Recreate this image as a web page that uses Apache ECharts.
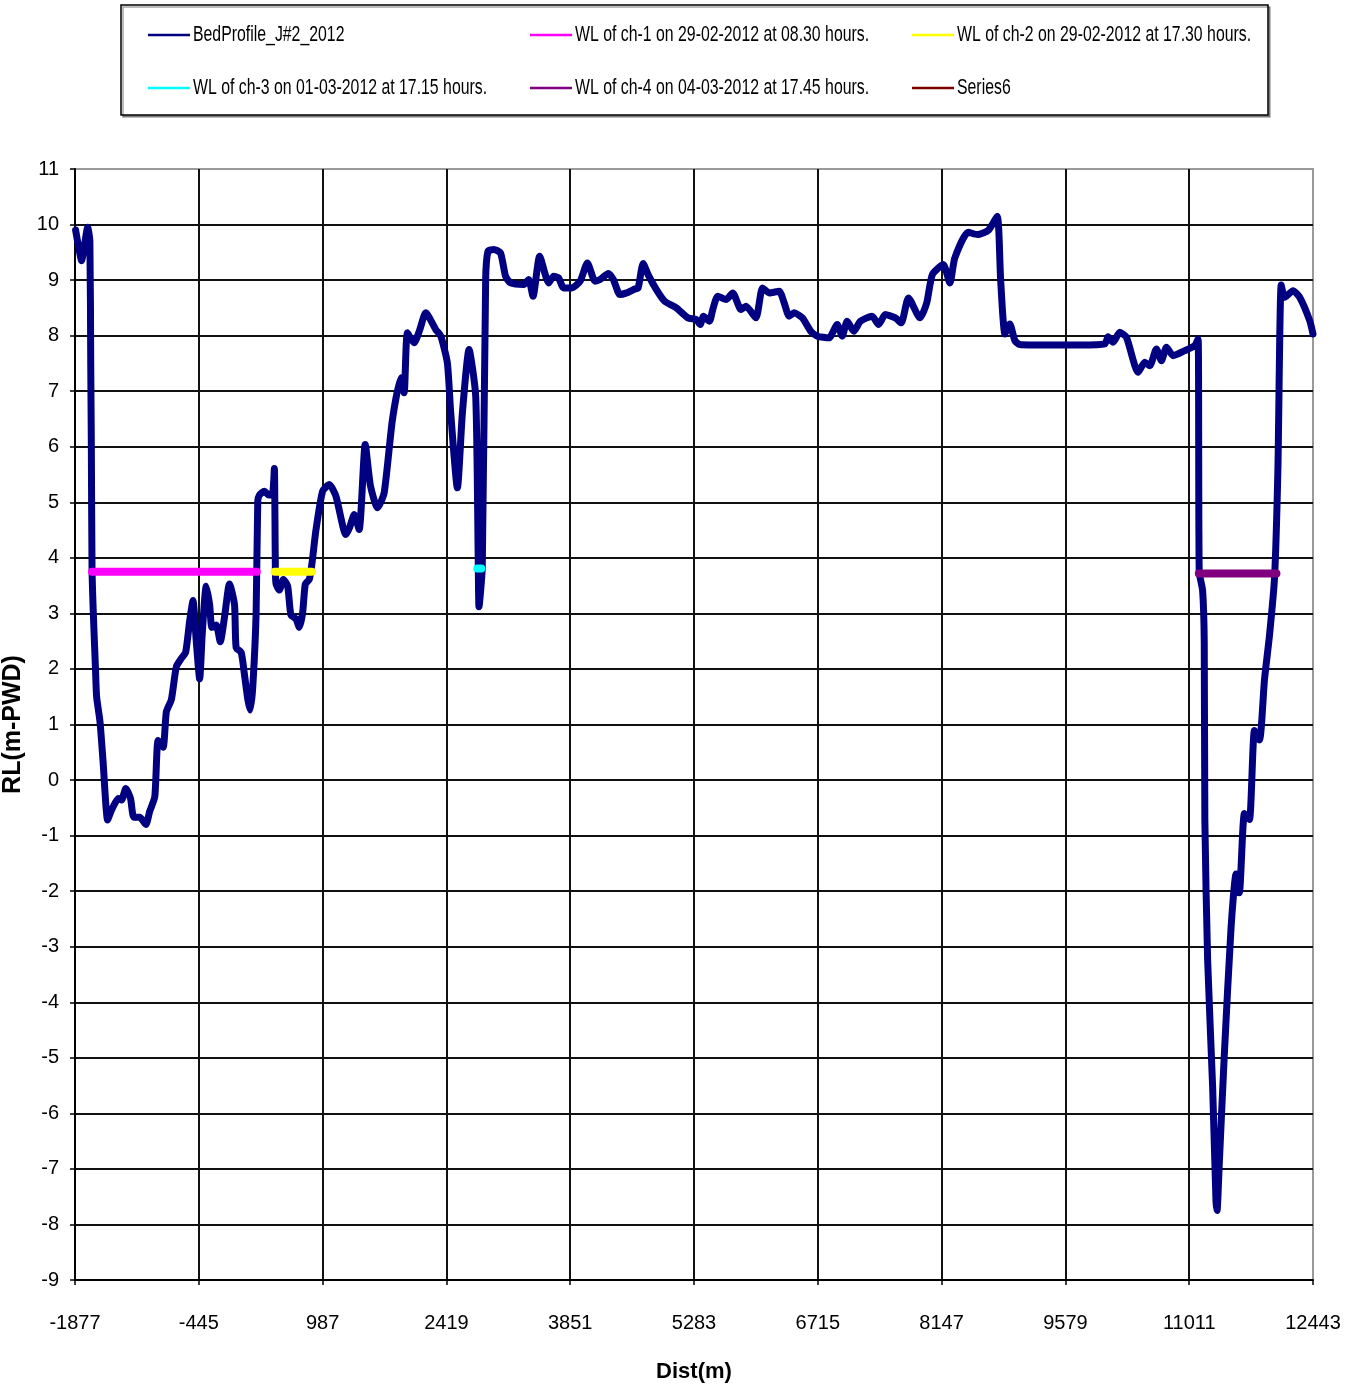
<!DOCTYPE html>
<html>
<head>
<meta charset="utf-8">
<script src="https://cdn.jsdelivr.net/npm/echarts@6/dist/echarts.min.js"></script>
<style>
  html, body { margin: 0; padding: 0; background: #fff; }
  #chart { width: 1357px; height: 1388px; }
</style>
</head>
<body>
<div id="chart"></div>
<script>
// Bed profile along the reach: [distance (m), RL (m-PWD)]
const bedProfile = [
  [-1870, 9.9], [-1830, 9.55], [-1800, 9.35], [-1770, 9.6], [-1730, 9.95], [-1705, 9.7],
  [-1695, 7.5], [-1688, 6.0], [-1680, 3.8], [-1665, 3.0], [-1640, 2.0], [-1627, 1.5],
  [-1588, 1.05], [-1553, 0.35], [-1500, -0.72], [-1470, -0.6], [-1435, -0.48], [-1377, -0.33],
  [-1339, -0.36], [-1289, -0.15], [-1235, -0.33], [-1197, -0.67], [-1127, -0.67], [-1058, -0.8],
  [-1012, -0.56], [-954, -0.3], [-916, 0.71], [-858, 0.59], [-820, 1.23], [-762, 1.45],
  [-705, 2.04], [-647, 2.19], [-597, 2.3], [-551, 2.86], [-512, 3.23], [-474, 2.49],
  [-435, 1.82], [-405, 2.64], [-359, 3.49], [-320, 3.16], [-293, 2.75], [-243, 2.79],
  [-197, 2.49], [-147, 2.94], [-90, 3.53], [-32, 3.16], [-13, 2.38], [45, 2.3],
  [83, 1.9], [122, 1.45], [149, 1.26], [179, 1.67], [218, 3.01], [237, 5.02],
  [256, 5.13], [314, 5.2], [364, 5.13], [410, 5.17], [429, 5.61], [441, 3.75],
  [449, 3.53], [487, 3.42], [533, 3.61], [583, 3.49], [621, 2.97], [679, 2.9],
  [718, 2.75], [756, 3.01], [787, 3.53], [833, 3.61], [864, 3.9], [910, 4.5],
  [987, 5.2], [1064, 5.32], [1141, 5.11], [1256, 4.42], [1300, 4.55], [1353, 4.78],
  [1410, 4.51], [1480, 6.04], [1540, 5.3], [1622, 4.9], [1699, 5.17], [1795, 6.49],
  [1892, 7.24], [1930, 6.97], [1968, 8.05], [2045, 7.87], [2110, 8.1], [2180, 8.41],
  [2296, 8.11], [2354, 7.99], [2430, 7.51], [2469, 6.61], [2546, 5.26], [2604, 6.61],
  [2681, 7.75], [2758, 6.91], [2788, 3.84], [2796, 3.12], [2834, 3.84], [2873, 9.0],
  [2900, 9.52], [2969, 9.55], [3045, 9.49], [3103, 9.07], [3160, 8.95], [3314, 8.92],
  [3371, 9.01], [3421, 8.71], [3498, 9.43], [3602, 8.95], [3659, 9.07], [3717, 9.04],
  [3774, 8.86], [3870, 8.86], [3966, 8.98], [4050, 9.31], [4139, 8.98], [4196, 9.01],
  [4292, 9.12], [4350, 9.01], [4426, 8.74], [4503, 8.77], [4599, 8.84], [4637, 8.86],
  [4695, 9.3], [4752, 9.1], [4848, 8.83], [4944, 8.62], [5078, 8.5], [5213, 8.32],
  [5309, 8.29], [5355, 8.2], [5393, 8.35], [5462, 8.26], [5500, 8.47], [5558, 8.71],
  [5654, 8.65], [5731, 8.77], [5827, 8.47], [5884, 8.53], [5999, 8.32], [6076, 8.86],
  [6153, 8.77], [6268, 8.8], [6326, 8.59], [6383, 8.35], [6441, 8.41], [6537, 8.32],
  [6633, 8.08], [6710, 7.99], [6844, 7.96], [6940, 8.2], [6997, 7.99], [7055, 8.26],
  [7132, 8.08], [7208, 8.26], [7342, 8.35], [7419, 8.2], [7496, 8.38], [7611, 8.32],
  [7680, 8.23], [7764, 8.68], [7898, 8.32], [7975, 8.59], [8040, 9.1], [8166, 9.28],
  [8243, 8.95], [8300, 9.4], [8454, 9.86], [8560, 9.82], [8690, 9.9], [8790, 10.15],
  [8830, 9.0], [8880, 8.03], [8936, 8.21], [8995, 7.91], [9052, 7.84], [9361, 7.83],
  [9746, 7.83], [10035, 7.85], [10073, 7.98], [10131, 7.88], [10208, 8.06], [10285, 7.97],
  [10420, 7.34], [10497, 7.52], [10555, 7.46], [10632, 7.76], [10690, 7.55], [10748, 7.79],
  [10825, 7.64], [10960, 7.73], [11075, 7.82], [11114, 7.94], [11127, 3.75], [11166, 3.41],
  [11185, 2.49], [11192, -0.71], [11224, -3.23], [11282, -5.52], [11321, -7.59], [11333, -7.75],
  [11359, -6.9], [11417, -4.95], [11495, -2.66], [11553, -1.69], [11591, -2.03], [11650, -0.6],
  [11708, -0.71], [11766, 0.89], [11824, 0.72], [11882, 1.81], [11940, 2.61], [11998, 3.64],
  [12037, 5.59], [12075, 8.91], [12116, 8.69], [12212, 8.81], [12289, 8.69], [12405, 8.27],
  [12443, 8.03]
];

// Water levels at the four channels
const wlCh1 = [[-1680, 3.75], [225, 3.75]];
const wlCh2 = [[432, 3.75], [862, 3.75]];
const wlCh3 = [[2776, 3.81], [2822, 3.81]];
const wlCh4 = [[11122, 3.72], [12020, 3.72]];
const series6 = [];

const seriesNames = [
  'BedProfile_J#2_2012',
  'WL of ch-1 on 29-02-2012 at 08.30 hours.',
  'WL of ch-2 on 29-02-2012 at 17.30 hours.',
  'WL of ch-3 on 01-03-2012 at 17.15 hours.',
  'WL of ch-4 on 04-03-2012 at 17.45 hours.',
  'Series6'
];
const seriesColors = ['#000080', '#FF00FF', '#FFFF00', '#00FFFF', '#800080', '#800000'];

// Axis ticks
const distTicks = [-1877, -445, 987, 2419, 3851, 5283, 6715, 8147, 9579, 11011, 12443];
const rlMin = -9, rlMax = 11, rlStep = 1;

const sans = "'Liberation Sans', Arial, sans-serif";

const chart = echarts.init(document.getElementById('chart'), null, { renderer: 'canvas' });

function lineSeries(idx, data, width) {
  return {
    name: seriesNames[idx],
    type: 'line',
    data: data,
    symbol: 'none',
    showSymbol: false,
    silent: true,
    animation: false,
    color: seriesColors[idx],
    lineStyle: { color: seriesColors[idx], width: width, cap: 'round', join: 'round' }
  };
}

// Legend box: three columns, two rows, condensed caption text
const legendCols = [148, 530, 912];
const legendRows = [35, 88];
const legendItems = seriesNames.map(function (name, i) {
  const x = legendCols[i % 3];
  const y = legendRows[Math.floor(i / 3)];
  return {
    type: 'group',
    children: [
      { type: 'line', z: 5, shape: { x1: x, y1: y, x2: x + 42, y2: y },
        style: { stroke: seriesColors[i], lineWidth: 2.5 } },
      { type: 'text', z: 5, x: x + 45, y: y, scaleX: 0.72,
        style: { text: name, fontFamily: sans, fontSize: 22, fill: '#000',
                 verticalAlign: 'middle', align: 'left' } }
    ]
  };
});

chart.setOption({
  backgroundColor: '#fff',
  animation: false,
  graphic: [{
    type: 'rect',
    z: 1,
    shape: { x: 121, y: 5, width: 1147, height: 110 },
    style: { fill: '#fff', stroke: '#000', lineWidth: 1.5,
             shadowColor: 'rgba(0,0,0,0.35)', shadowOffsetX: 2, shadowOffsetY: 2 }
  }].concat(legendItems),
  grid: {
    left: 75, right: 44, top: 169, bottom: 108,
    containLabel: false,
    outerBoundsMode: 'none',
    show: true,
    borderColor: '#9a9a9a',
    borderWidth: 2,
    backgroundColor: '#fff'
  },
  xAxis: {
    type: 'value',
    min: distTicks[0],
    max: distTicks[distTicks.length - 1],
    name: 'Dist(m)',
    nameLocation: 'middle',
    nameGap: 81,
    nameTextStyle: { fontFamily: sans, fontWeight: 'bold', fontSize: 22, color: '#000' },
    axisLine: { show: true, onZero: false, lineStyle: { color: '#000', width: 2 } },
    axisTick: { show: true, inside: false, length: 5, customValues: distTicks,
                lineStyle: { color: '#000', width: 1.5 } },
    axisLabel: { customValues: distTicks, margin: 33, fontFamily: sans, fontSize: 20, color: '#000',
                 formatter: function (v) { return String(v); } },
    splitLine: { show: true, showMinLine: false, showMaxLine: false,
                 lineStyle: { color: '#111', width: 2 } }
  },
  yAxis: {
    type: 'value',
    min: rlMin,
    max: rlMax,
    interval: rlStep,
    name: 'RL(m-PWD)',
    nameLocation: 'middle',
    nameGap: 35,
    nameTextStyle: { fontFamily: sans, fontWeight: 'bold', fontSize: 25, color: '#000' },
    axisLine: { show: true, onZero: false, lineStyle: { color: '#000', width: 2 } },
    axisTick: { show: true, inside: false, length: 5, lineStyle: { color: '#000', width: 1.5 } },
    axisLabel: { margin: 16, fontFamily: sans, fontSize: 20, color: '#000' },
    splitLine: { show: true, showMinLine: false, showMaxLine: false,
                 lineStyle: { color: '#111', width: 2 } }
  },
  series: [
    Object.assign(lineSeries(0, bedProfile, 7), { smooth: 0.2 }),
    lineSeries(1, wlCh1, 8),
    lineSeries(2, wlCh2, 8),
    lineSeries(3, wlCh3, 8),
    lineSeries(4, wlCh4, 8),
    lineSeries(5, series6, 3)
  ]
});
</script>
</body>
</html>
